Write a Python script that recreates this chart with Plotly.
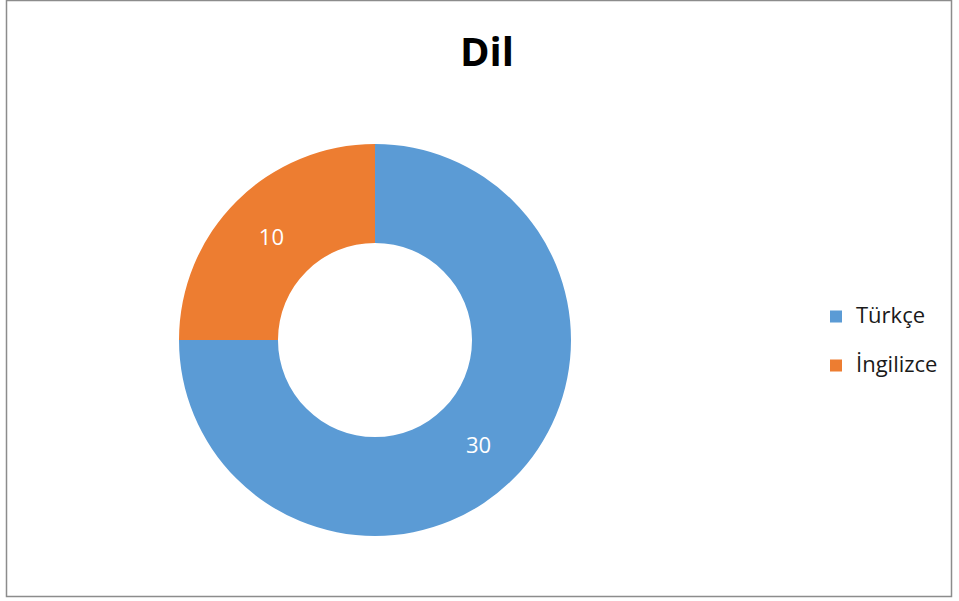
import plotly.graph_objects as go

# Language distribution
labels = ["Türkçe", "İngilizce"]
values = [30, 10]
colors = ["#5B9BD5", "#ED7D31"]

W, H = 959, 601

# Donut placement in pixels (centre and outer radius)
cx, cy, r = 375, 340, 196

# Legend entries: larger visible text, with an extra line for row spacing
legend_labels = [f"<span style='font-size:22px'>{lab}</span><br>" for lab in labels]

fig = go.Figure(
    go.Pie(
        labels=legend_labels,
        values=values,
        hole=0.495,
        sort=False,
        direction="clockwise",
        rotation=0,
        marker=dict(colors=colors, line=dict(width=0)),
        textinfo="value",
        textposition="inside",
        insidetextorientation="horizontal",
        textfont=dict(family="Open Sans", size=22, color="white"),
        hovertemplate=[f"{lab}: %{{value}}<extra></extra>" for lab in labels],
        domain=dict(
            x=[(cx - r) / W, (cx + r) / W],
            y=[(H - cy - r) / H, (H - cy + r) / H],
        ),
    )
)

fig.update_layout(
    width=W,
    height=H,
    margin=dict(l=0, r=0, t=0, b=0),
    paper_bgcolor="white",
    plot_bgcolor="white",
    title=dict(
        text="<b>Dil</b>",
        x=487 / W,
        xanchor="center",
        y=1 - 52 / H,
        yanchor="middle",
        font=dict(family="Open Sans", size=40, color="black"),
    ),
    legend=dict(
        x=816 / W,
        xanchor="left",
        y=1 - 353 / H,
        yanchor="middle",
        valign="top",
        font=dict(family="Open Sans", size=17.7, color="#1a1a1a"),
        bgcolor="rgba(0,0,0,0)",
    ),
    shapes=[
        dict(
            type="rect",
            xref="paper",
            yref="paper",
            x0=6.5 / W,
            x1=951.5 / W,
            y0=1 - 596.5 / H,
            y1=1 - 0.5 / H,
            line=dict(color="#8c8c8c", width=1.5),
            fillcolor="rgba(0,0,0,0)",
            layer="below",
        )
    ],
)

fig.write_html("out.html")
